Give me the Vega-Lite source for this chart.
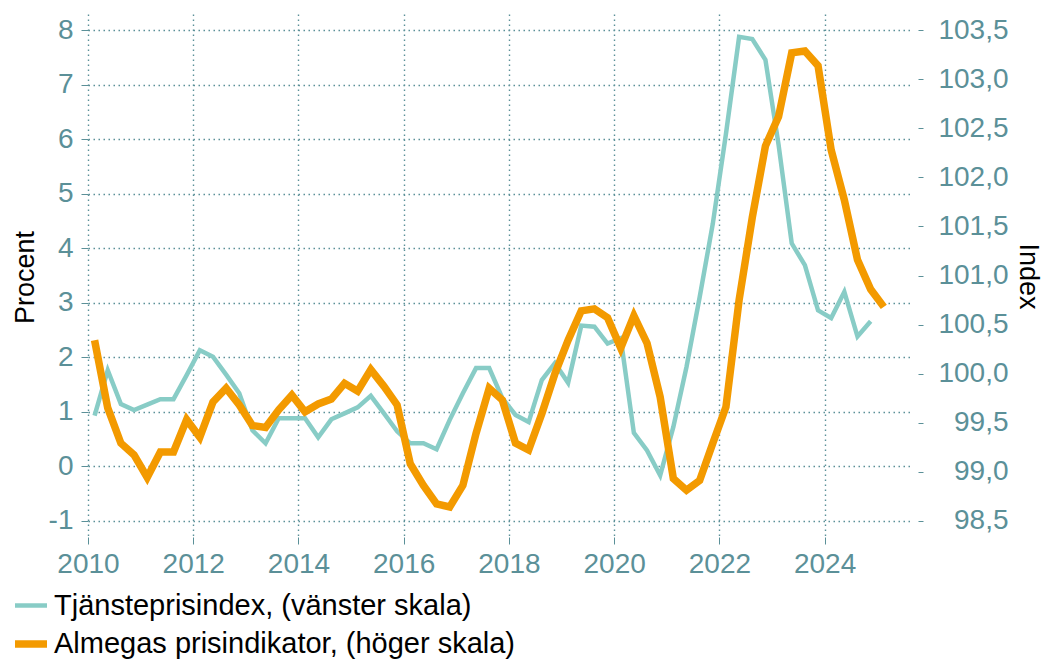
{
  "$schema": "https://vega.github.io/schema/vega-lite/v6.json",
  "width": 825,
  "height": 523,
  "autosize": {"type": "none"},
  "padding": {"left": 88, "top": 14, "right": 129, "bottom": 123},
  "background": "white",
  "config": {
    "view": {"stroke": null},
    "font": "Liberation Sans",
    "axis": {
      "labelFont": "Liberation Sans",
      "titleFont": "Liberation Sans",
      "labelColor": "#5b9098",
      "tickColor": "#5b9098",
      "gridColor": "#5b9098",
      "gridDash": [1.5, 3.5],
      "gridWidth": 1.4,
      "domain": false,
      "labelFlush": false,
      "labelOverlap": false,
      "labelBound": false,
      "titleColor": "black",
      "titleFontWeight": "normal"
    },
    "legend": {
      "labelFont": "Liberation Sans",
      "labelFontSize": 29,
      "labelColor": "black",
      "symbolType": "stroke",
      "symbolSize": 1024,
      "orient": "none",
      "legendX": -77,
      "legendY": 573,
      "rowPadding": 3,
      "labelOffset": 3,
      "padding": 0,
      "labelLimit": 800
    }
  },
  "data": {
    "values": [
      {"t": 2010.125, "tpi": 0.93, "alm": 100.34},
      {"t": 2010.375, "tpi": 1.76, "alm": 99.65},
      {"t": 2010.625, "tpi": 1.14, "alm": 99.29},
      {"t": 2010.875, "tpi": 1.03, "alm": 99.17},
      {"t": 2011.125, "tpi": 1.13, "alm": 98.94},
      {"t": 2011.375, "tpi": 1.23, "alm": 99.20},
      {"t": 2011.625, "tpi": 1.23, "alm": 99.20},
      {"t": 2011.875, "tpi": 1.67, "alm": 99.53},
      {"t": 2012.125, "tpi": 2.13, "alm": 99.35},
      {"t": 2012.375, "tpi": 2.01, "alm": 99.71},
      {"t": 2012.625, "tpi": 1.68, "alm": 99.85},
      {"t": 2012.875, "tpi": 1.34, "alm": 99.68},
      {"t": 2013.125, "tpi": 0.66, "alm": 99.47},
      {"t": 2013.375, "tpi": 0.42, "alm": 99.45},
      {"t": 2013.625, "tpi": 0.88, "alm": 99.63},
      {"t": 2013.875, "tpi": 0.88, "alm": 99.78},
      {"t": 2014.125, "tpi": 0.88, "alm": 99.61},
      {"t": 2014.375, "tpi": 0.53, "alm": 99.69},
      {"t": 2014.625, "tpi": 0.86, "alm": 99.74},
      {"t": 2014.875, "tpi": 0.97, "alm": 99.90},
      {"t": 2015.125, "tpi": 1.08, "alm": 99.82},
      {"t": 2015.375, "tpi": 1.29, "alm": 100.04},
      {"t": 2015.625, "tpi": 0.97, "alm": 99.87},
      {"t": 2015.875, "tpi": 0.64, "alm": 99.68},
      {"t": 2016.125, "tpi": 0.42, "alm": 99.08},
      {"t": 2016.375, "tpi": 0.42, "alm": 98.86},
      {"t": 2016.625, "tpi": 0.31, "alm": 98.67},
      {"t": 2016.875, "tpi": 0.85, "alm": 98.64},
      {"t": 2017.125, "tpi": 1.34, "alm": 98.86},
      {"t": 2017.375, "tpi": 1.80, "alm": 99.39},
      {"t": 2017.625, "tpi": 1.80, "alm": 99.85},
      {"t": 2017.875, "tpi": 1.25, "alm": 99.73},
      {"t": 2018.125, "tpi": 0.94, "alm": 99.29},
      {"t": 2018.375, "tpi": 0.81, "alm": 99.22},
      {"t": 2018.625, "tpi": 1.58, "alm": 99.59},
      {"t": 2018.875, "tpi": 1.89, "alm": 100.00},
      {"t": 2019.125, "tpi": 1.53, "alm": 100.34},
      {"t": 2019.375, "tpi": 2.58, "alm": 100.64},
      {"t": 2019.625, "tpi": 2.56, "alm": 100.66},
      {"t": 2019.875, "tpi": 2.25, "alm": 100.57},
      {"t": 2020.125, "tpi": 2.35, "alm": 100.26},
      {"t": 2020.375, "tpi": 0.61, "alm": 100.59},
      {"t": 2020.625, "tpi": 0.29, "alm": 100.31},
      {"t": 2020.875, "tpi": -0.17, "alm": 99.76},
      {"t": 2021.125, "tpi": 0.72, "alm": 98.93},
      {"t": 2021.375, "tpi": 1.82, "alm": 98.81},
      {"t": 2021.625, "tpi": 3.10, "alm": 98.91},
      {"t": 2021.875, "tpi": 4.45, "alm": 99.29},
      {"t": 2022.125, "tpi": 6.10, "alm": 99.66},
      {"t": 2022.375, "tpi": 7.88, "alm": 100.75},
      {"t": 2022.625, "tpi": 7.84, "alm": 101.59},
      {"t": 2022.875, "tpi": 7.46, "alm": 102.32},
      {"t": 2023.125, "tpi": 5.90, "alm": 102.62},
      {"t": 2023.375, "tpi": 4.09, "alm": 103.27},
      {"t": 2023.625, "tpi": 3.69, "alm": 103.29},
      {"t": 2023.875, "tpi": 2.86, "alm": 103.14},
      {"t": 2024.125, "tpi": 2.72, "alm": 102.28},
      {"t": 2024.375, "tpi": 3.20, "alm": 101.77},
      {"t": 2024.625, "tpi": 2.38, "alm": 101.16},
      {"t": 2024.875, "tpi": 2.66, "alm": 100.86},
      {"t": 2025.125, "tpi": null, "alm": 100.68}
    ]
  },
  "encoding": {
    "x": {
      "field": "t",
      "type": "quantitative",
      "scale": {"domain": [2010, 2025.68], "nice": false, "zero": false},
      "axis": {
        "title": null,
        "values": [2010, 2012, 2014, 2016, 2018, 2020, 2022, 2024],
        "format": "d",
        "grid": true,
        "tickSize": 7,
        "labelPadding": 6,
        "labelFontSize": 28
      }
    }
  },
  "layer": [
    {
      "mark": {"type": "line", "strokeJoin": "miter"},
      "encoding": {
        "y": {
          "field": "tpi",
          "type": "quantitative",
          "scale": {"domain": [-1.3, 8.3], "nice": false, "zero": false},
          "axis": {
            "orient": "left",
            "values": [-1, 0, 1, 2, 3, 4, 5, 6, 7, 8],
            "labelExpr": "'' + datum.value",
            "grid": true,
            "tickSize": 7,
            "labelPadding": 8,
            "labelFontSize": 28,
            "title": "Procent",
            "titleFontSize": 27,
            "titleAngle": 270,
            "titleX": -63,
            "titleY": 263,
            "titleAlign": "center",
            "titleBaseline": "middle"
          }
        },
        "color": {
          "datum": "Tjänsteprisindex, (vänster skala)",
          "type": "nominal",
          "scale": {
            "domain": ["Tjänsteprisindex, (vänster skala)", "Almegas prisindikator, (höger skala)"],
            "range": ["#88ccc6", "#f39a00"]
          },
          "legend": {"title": null}
        },
        "strokeWidth": {
          "datum": "Tjänsteprisindex, (vänster skala)",
          "type": "ordinal",
          "scale": {
            "domain": ["Tjänsteprisindex, (vänster skala)", "Almegas prisindikator, (höger skala)"],
            "range": [4.5, 7.5]
          },
          "legend": {"title": null}
        }
      }
    },
    {
      "mark": {"type": "line", "strokeJoin": "miter"},
      "encoding": {
        "y": {
          "field": "alm",
          "type": "quantitative",
          "scale": {"domain": [98.33333, 103.66667], "nice": false, "zero": false},
          "axis": {
            "orient": "right",
            "values": [98.5, 99, 99.5, 100, 100.5, 101, 101.5, 102, 102.5, 103, 103.5],
            "labelExpr": "replace(format(datum.value, '.1f'), '.', ',')",
            "grid": false,
            "offset": 5,
            "tickSize": 5,
            "labelAlign": "right",
            "labelPadding": 85,
            "labelFontSize": 28,
            "title": "Index",
            "titleFontSize": 27,
            "titleAngle": 90,
            "titleX": 109,
            "titleY": 262,
            "titleAlign": "center",
            "titleBaseline": "middle"
          }
        },
        "color": {
          "datum": "Almegas prisindikator, (höger skala)",
          "type": "nominal"
        },
        "strokeWidth": {
          "datum": "Almegas prisindikator, (höger skala)",
          "type": "ordinal"
        }
      }
    }
  ],
  "resolve": {"scale": {"y": "independent"}}
}
